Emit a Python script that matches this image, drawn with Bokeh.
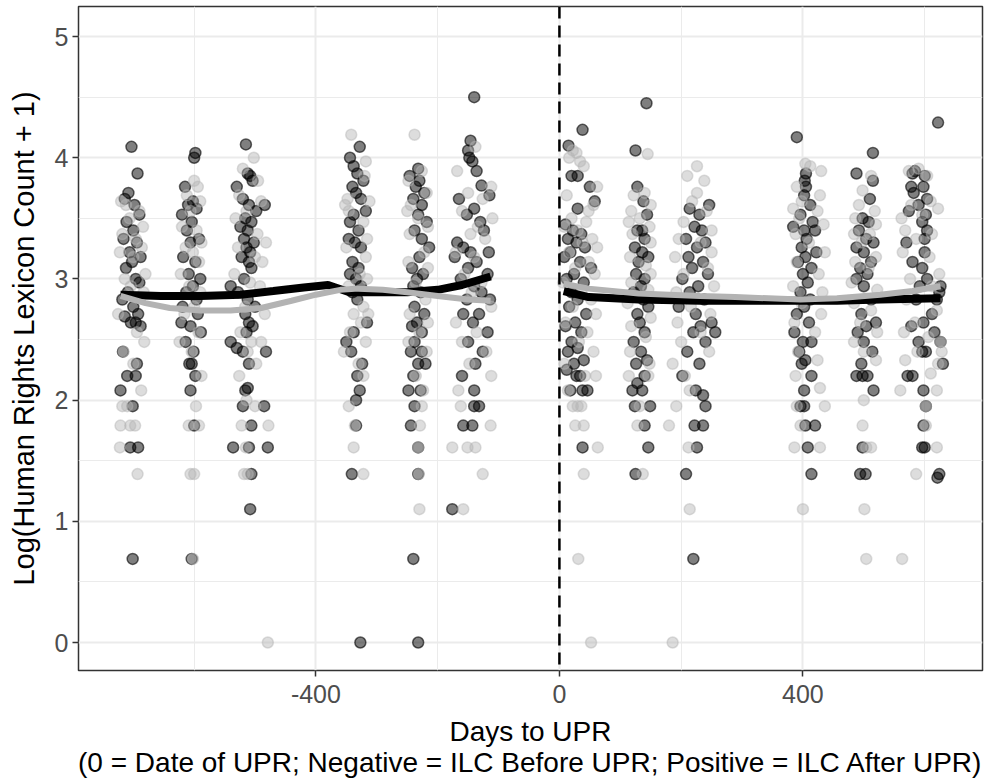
from bokeh.plotting import figure
from bokeh.models import Range1d, FixedTicker, Span
from bokeh.embed import file_html
from bokeh.resources import INLINE

# ---------------- data (days to UPR, log(count + 1)) ----------------
dark_pre = [
    # ~ -700
    (-703,4.09),(-693,3.87),(-708,3.71),(-714,3.66),(-698,3.61),(-690,3.53),(-711,3.47),(-700,3.40),
    (-716,3.33),(-694,3.30),(-706,3.22),(-688,3.18),(-702,3.14),(-712,3.09),(-696,3.00),(-690,2.97),
    (-709,2.89),(-718,2.83),(-700,2.77),(-692,2.71),(-714,2.69),(-704,2.64),(-696,2.64),(-688,2.61),
    (-717,2.40),(-694,2.30),(-710,2.20),(-696,2.20),(-721,2.08),(-701,1.95),(-705,1.61),(-692,1.61),
    (-701,0.69),
    # ~ -600
    (-598,4.04),(-600,4.00),(-615,3.76),(-602,3.64),(-610,3.61),(-596,3.58),(-620,3.53),(-604,3.47),
    (-612,3.40),(-592,3.33),(-606,3.30),(-618,3.18),(-598,3.14),(-609,3.04),(-590,3.00),(-602,2.94),
    (-613,2.89),(-596,2.83),(-619,2.77),(-594,2.71),(-621,2.64),(-606,2.61),(-589,2.56),(-614,2.48),
    (-601,2.40),(-608,2.30),(-604,2.30),(-598,2.20),(-606,2.08),(-600,1.79),(-604,0.69),
    # ~ -515
    (-515,4.11),(-512,3.87),(-508,3.85),(-530,3.76),(-504,3.81),(-520,3.66),(-510,3.61),(-498,3.56),
    (-516,3.50),(-524,3.43),(-506,3.47),(-512,3.40),(-518,3.33),(-502,3.30),(-484,3.61),(-514,3.26),
    (-508,3.22),(-522,3.18),(-510,3.14),(-506,3.09),(-518,3.00),(-540,2.94),(-528,2.89),(-512,2.83),
    (-500,2.77),(-516,2.71),(-510,2.64),(-504,2.61),(-514,2.56),(-540,2.48),(-520,2.40),(-530,2.43),
    (-482,2.40),(-510,2.30),(-516,2.08),(-512,2.10),(-520,1.95),(-485,1.95),(-506,1.79),(-536,1.61),
    (-510,1.61),(-479,1.61),(-506,1.39),(-508,1.10),
    # ~ -335
    (-328,4.09),(-344,4.00),(-338,3.93),(-332,3.87),(-322,3.81),(-340,3.76),(-334,3.71),(-326,3.66),
    (-318,3.56),(-338,3.53),(-344,3.47),(-330,3.40),(-346,3.33),(-336,3.30),(-326,3.26),(-340,3.14),
    (-330,3.09),(-344,3.04),(-334,3.00),(-326,2.94),(-340,2.89),(-332,2.83),(-316,2.64),(-338,2.56),
    (-350,2.48),(-342,2.40),(-324,2.30),(-332,2.20),(-328,2.08),(-334,2.00),(-334,1.79),(-341,1.39),
    (-327,0.00),
    # ~ -235
    (-232,3.91),(-246,3.85),(-230,3.81),(-236,3.76),(-222,3.71),(-240,3.66),(-226,3.61),(-232,3.53),
    (-218,3.47),(-238,3.40),(-226,3.33),(-214,3.26),(-230,3.18),(-242,3.09),(-224,3.04),(-234,3.00),
    (-240,2.94),(-228,2.89),(-238,2.77),(-222,2.71),(-234,2.64),(-242,2.61),(-226,2.56),(-238,2.48),
    (-244,2.40),(-226,2.40),(-232,2.30),(-220,2.30),(-240,2.20),(-228,2.08),(-248,2.08),(-238,1.95),
    (-244,1.79),(-232,1.61),(-232,1.39),(-240,0.69),(-232,0.00),
    # ~ -145
    (-140,4.50),(-146,4.14),(-150,4.06),(-148,4.00),(-143,3.97),(-136,3.89),(-128,3.77),(-165,3.66),
    (-115,3.69),(-140,3.58),(-152,3.53),(-130,3.47),(-124,3.40),(-168,3.30),(-158,3.26),(-146,3.22),
    (-116,3.22),(-172,3.18),(-136,3.14),(-150,3.09),(-118,3.04),(-162,3.00),(-140,2.94),(-128,2.89),
    (-152,2.83),(-114,2.83),(-158,2.71),(-132,2.71),(-142,2.64),(-118,2.56),(-150,2.48),(-126,2.40),
    (-138,2.30),(-160,2.20),(-140,2.08),(-140,1.95),(-132,1.95),(-158,1.79),(-143,1.79),(-176,1.10),
]

light_pre = [
    # ~ -700
    (-720,3.64),(-712,3.61),(-690,3.56),(-706,3.50),(-684,3.43),(-718,3.37),(-696,3.33),(-686,3.26),
    (-722,3.22),(-700,3.18),(-680,3.04),(-714,3.00),(-704,2.94),(-683,2.89),(-725,2.71),(-694,2.56),
    (-682,2.48),(-716,2.40),(-700,2.30),(-687,2.08),(-718,1.95),(-710,1.95),(-721,1.79),(-705,1.79),
    (-697,1.79),(-722,1.61),(-693,1.39),
    # ~ -600
    (-600,3.81),(-594,3.76),(-612,3.69),(-590,3.64),(-606,3.56),(-620,3.43),(-596,3.40),(-588,3.30),
    (-614,3.26),(-602,3.22),(-592,3.14),(-622,3.04),(-608,2.94),(-590,2.89),(-600,2.77),(-616,2.71),
    (-593,2.56),(-624,2.48),(-604,2.40),(-588,2.20),(-597,1.95),(-609,1.79),(-592,1.79),(-606,1.39),
    (-600,1.39),(-602,0.69),
    # ~ -515
    (-502,4.00),(-520,3.91),(-495,3.81),(-526,3.69),(-490,3.64),(-514,3.56),(-532,3.50),(-496,3.37),
    (-482,3.30),(-528,3.26),(-500,3.18),(-488,3.14),(-534,3.04),(-508,2.97),(-492,2.94),(-516,2.77),
    (-484,2.71),(-524,2.56),(-506,2.48),(-512,2.40),(-490,2.48),(-498,2.30),(-526,2.20),(-514,2.00),
    (-500,1.95),(-522,1.79),(-478,1.79),(-515,1.61),(-518,1.39),(-512,1.39),(-479,0.00),
    # ~ -335
    (-342,4.19),(-318,3.97),(-320,3.85),(-348,3.66),(-352,3.61),(-312,3.64),(-346,3.56),(-322,3.47),
    (-316,3.33),(-350,3.26),(-318,3.18),(-328,3.04),(-316,3.00),(-346,2.94),(-322,2.77),(-338,2.71),
    (-314,2.71),(-326,2.64),(-344,2.56),(-318,2.48),(-354,2.40),(-330,2.30),(-322,2.20),(-346,1.95),
    (-336,1.79),(-338,1.61),(-322,1.39),
    # ~ -235
    (-238,4.19),(-226,3.89),(-248,3.81),(-218,3.71),(-244,3.61),(-250,3.56),(-232,3.50),(-216,3.43),
    (-246,3.37),(-222,3.22),(-248,3.14),(-216,3.09),(-236,2.97),(-220,2.83),(-246,2.71),(-216,2.64),
    (-230,2.56),(-248,2.48),(-218,2.40),(-236,2.20),(-224,2.08),(-226,1.95),(-229,1.79),(-232,1.61),
    (-231,1.39),(-230,1.10),
    # ~ -145
    (-138,4.09),(-168,3.89),(-112,3.76),(-150,3.71),(-126,3.66),(-160,3.56),(-110,3.50),(-134,3.43),
    (-146,3.37),(-122,3.33),(-170,3.22),(-140,3.18),(-156,3.04),(-128,2.97),(-144,2.89),(-112,2.77),
    (-170,2.64),(-136,2.56),(-160,2.48),(-120,2.40),(-148,2.30),(-112,2.20),(-166,2.08),(-162,1.95),
    (-113,1.79),(-176,1.61),(-151,1.61),(-138,1.61),(-126,1.39),(-158,1.10),
]

dark_post = [
    # ~ 35
    (15,4.10),(38,4.23),(20,3.85),(30,3.85),(50,3.76),(58,3.64),(30,3.58),(10,3.45),(22,3.40),
    (36,3.37),(14,3.33),(28,3.30),(42,3.26),(18,3.22),(8,3.18),(34,3.14),(52,3.09),(24,3.04),
    (12,3.00),(40,2.97),(20,2.89),(30,2.83),(16,2.77),(44,2.71),(26,2.64),(10,2.61),(36,2.56),
    (20,2.48),(30,2.43),(14,2.40),(40,2.33),(24,2.30),(12,2.25),(34,2.20),(28,2.20),(18,2.08),
    (38,2.08),(46,2.08),(38,1.61),
    # ~ 133
    (143,4.45),(125,4.06),(128,3.76),(138,3.64),(144,3.53),(136,3.40),(128,3.40),(140,3.33),
    (124,3.26),(136,3.22),(146,3.18),(130,3.14),(126,3.04),(140,3.00),(134,2.94),(122,2.89),
    (138,2.83),(146,2.77),(128,2.71),(132,2.64),(140,2.56),(122,2.48),(134,2.40),(144,2.33),
    (126,2.30),(140,2.20),(128,2.14),(136,2.08),(120,2.08),(124,1.95),(149,1.95),(140,1.79),
    (146,1.61),(125,1.39),
    # ~ 225
    (246,3.61),(214,3.58),(230,3.53),(222,3.43),(234,3.40),(208,3.33),(240,3.30),(226,3.26),
    (212,3.18),(236,3.14),(218,3.09),(244,3.04),(202,3.00),(228,2.94),(214,2.89),(238,2.83),
    (196,2.77),(224,2.71),(250,2.64),(232,2.61),(256,2.56),(220,2.56),(240,2.48),(210,2.40),
    (230,2.30),(202,2.20),(224,2.08),(236,2.04),(240,1.95),(222,1.79),(236,1.79),(226,1.61),
    (208,1.39),(220,0.69),
    # ~ 405
    (390,4.17),(405,3.87),(403,3.81),(405,3.76),(402,3.69),(412,3.61),(396,3.53),(416,3.47),
    (384,3.43),(402,3.40),(420,3.40),(406,3.33),(398,3.26),(422,3.22),(404,3.18),(392,3.14),
    (414,3.09),(400,3.04),(408,2.97),(396,2.89),(412,2.83),(402,2.77),(390,2.71),(410,2.64),
    (386,2.56),(400,2.48),(414,2.48),(394,2.40),(404,2.33),(398,2.30),(414,2.20),(402,2.08),
    (396,1.95),(402,1.95),(404,1.79),(420,1.79),(408,1.61),(414,1.39),
    # ~ 500
    (515,4.04),(488,3.87),(515,3.81),(510,3.66),(498,3.50),(508,3.47),(492,3.40),(504,3.33),
    (516,3.30),(488,3.26),(500,3.22),(512,3.14),(494,3.09),(506,3.04),(488,3.00),(500,2.94),
    (512,2.83),(496,2.71),(520,2.64),(504,2.61),(490,2.56),(500,2.48),(514,2.40),(496,2.30),
    (506,2.20),(488,2.20),(498,2.20),(516,2.08),(494,1.39),(503,1.39),(498,1.61),
    # ~ 590
    (622,4.29),(584,3.89),(580,3.87),(600,3.85),(582,3.71),(578,3.76),(598,3.76),(604,3.66),
    (590,3.61),(574,3.56),(602,3.53),(596,3.47),(604,3.40),(600,3.33),(570,3.30),(600,3.22),
    (580,3.14),(596,3.09),(604,3.00),(592,2.94),(626,2.94),(624,2.89),(620,2.83),(586,2.83),
    (612,2.71),(598,2.64),(578,2.61),(616,2.56),(590,2.48),(602,2.40),(596,2.40),(626,2.48),
    (630,2.30),(580,2.20),(572,2.20),(598,2.08),(602,1.95),(598,1.79),(600,1.61),(596,1.61),
    (624,1.39),(621,1.36),
]

light_post = [
    # ~ 35
    (22,4.06),(28,4.04),(16,4.00),(34,3.97),(40,3.93),(62,3.76),(12,3.69),(56,3.61),(48,3.56),
    (20,3.50),(44,3.47),(8,3.43),(30,3.40),(54,3.33),(38,3.30),(62,3.26),(16,3.22),(48,3.14),
    (26,3.09),(58,3.04),(6,2.97),(36,2.89),(52,2.83),(22,2.77),(60,2.71),(10,2.64),(46,2.56),
    (32,2.48),(56,2.40),(8,2.30),(42,2.20),(60,2.20),(14,2.08),(22,1.95),(30,1.95),(36,1.95),
    (26,1.79),(40,1.79),(63,1.61),(40,1.39),(31,0.69),(52,0.00),
    # ~ 133
    (145,4.03),(122,3.69),(140,3.71),(118,3.56),(150,3.61),(132,3.50),(114,3.47),(148,3.43),
    (120,3.37),(150,3.30),(116,3.18),(142,3.11),(150,3.04),(118,2.97),(146,2.91),(112,2.80),
    (150,2.68),(118,2.61),(142,2.52),(116,2.40),(148,2.30),(114,2.20),(146,2.20),(132,1.95),
    (128,1.79),(137,1.39),
    # ~ 225
    (226,3.93),(210,3.85),(238,3.81),(226,3.71),(218,3.64),(242,3.56),(204,3.47),(250,3.40),
    (196,3.33),(232,3.30),(250,3.22),(190,3.18),(244,3.09),(204,3.04),(254,2.94),(192,2.89),
    (216,2.77),(248,2.71),(194,2.64),(232,2.56),(200,2.48),(246,2.40),(186,2.30),(206,2.20),
    (214,2.08),(192,1.95),(180,1.79),(212,1.61),(214,1.10),(186,0.00),
    # ~ 405
    (404,3.95),(412,3.93),(430,3.89),(390,3.76),(428,3.69),(398,3.64),(384,3.58),(424,3.56),
    (394,3.50),(434,3.45),(388,3.37),(410,3.30),(436,3.22),(390,3.14),(426,3.04),(384,2.94),
    (432,2.89),(398,2.80),(430,2.71),(386,2.64),(420,2.56),(392,2.40),(424,2.33),(388,2.20),
    (428,2.10),(390,1.95),(436,1.95),(396,1.79),(386,1.61),(428,1.61),(400,1.10),
    # ~ 500
    (512,3.85),(498,3.73),(492,3.61),(518,3.56),(486,3.50),(520,3.45),(484,3.37),(510,3.37),
    (496,3.30),(520,3.18),(486,3.14),(508,3.09),(480,2.97),(522,2.91),(484,2.80),(512,2.74),
    (494,2.64),(522,2.56),(484,2.48),(500,2.40),(520,2.33),(500,2.00),(498,1.79),(504,1.61),
    (512,1.61),(501,1.10),(504,0.69),
    # ~ 590
    (574,3.89),(590,3.91),(604,3.85),(622,3.58),(578,3.61),(610,3.64),(562,3.50),(596,3.53),
    (568,3.40),(612,3.37),(586,3.33),(564,3.22),(608,3.18),(624,3.04),(576,3.00),(612,2.94),
    (570,2.83),(620,2.74),(584,2.64),(566,2.56),(606,2.52),(626,2.48),(588,2.40),(568,2.33),
    (622,2.30),(610,2.22),(628,2.40),(560,2.08),(620,2.08),(620,1.61),(602,1.79),(602,1.95),
    (586,1.39),(563,0.69),
]

# smoothed (loess) trends
dark_smooth_pre_x = [-721, -655, -590, -524, -470, -420, -380, -345, -300, -250, -200, -160, -113]
dark_smooth_pre_y = [2.87, 2.86, 2.86, 2.87, 2.90, 2.93, 2.95, 2.89, 2.89, 2.89, 2.91, 2.95, 3.02]
light_smooth_pre_x = [-721, -680, -640, -590, -540, -490, -440, -400, -360, -330, -290, -250, -200, -150, -113]
light_smooth_pre_y = [2.86, 2.80, 2.76, 2.74, 2.74, 2.76, 2.82, 2.87, 2.91, 2.92, 2.91, 2.89, 2.86, 2.83, 2.82]
dark_smooth_post_x = [7, 48, 130, 231, 289, 396, 456, 527, 626]
dark_smooth_post_y = [2.90, 2.85, 2.83, 2.82, 2.82, 2.82, 2.82, 2.83, 2.84]
light_smooth_post_x = [7, 48, 130, 231, 289, 396, 456, 527, 580, 626]
light_smooth_post_y = [2.96, 2.92, 2.88, 2.86, 2.85, 2.83, 2.84, 2.87, 2.90, 2.94]

x_ticks = [-400, 0, 400]
x_tick_labels = {-400: "-400", 0: "0", 400: "400"}
x_minor = [-800, -600, -200, 200, 600]
y_ticks = [0, 1, 2, 3, 4, 5]
y_minor = [0.5, 1.5, 2.5, 3.5, 4.5]

FONT = "Liberation Sans"

p = figure(width=984, height=780, output_backend="svg", toolbar_location=None,
           x_range=Range1d(-790, 695), y_range=Range1d(-0.231, 5.248),
           min_border_left=78, min_border_right=2, min_border_top=6, min_border_bottom=110)
p.background_fill_color = "white"
p.border_fill_color = "white"
p.outline_line_color = "#333333"
p.outline_line_width = 1.5

p.xaxis.ticker = FixedTicker(ticks=x_ticks, minor_ticks=x_minor)
p.yaxis.ticker = FixedTicker(ticks=y_ticks, minor_ticks=y_minor)
p.xaxis.major_label_overrides = x_tick_labels
p.xgrid.ticker = p.xaxis.ticker
p.ygrid.ticker = p.yaxis.ticker
for g in (p.xgrid, p.ygrid):
    g.grid_line_color = "#ebebeb"
    g.grid_line_width = 2
    g.minor_grid_line_color = "#ebebeb"
    g.minor_grid_line_width = 1

for ax in (p.xaxis, p.yaxis):
    ax.axis_line_color = None
    ax.major_tick_line_color = "#333333"
    ax.major_tick_line_width = 1.5
    ax.major_tick_out = 6
    ax.major_tick_in = 0
    ax.minor_tick_line_color = None
    ax.major_label_text_font = FONT
    ax.major_label_text_font_size = "25px"
    ax.major_label_text_color = "#4d4d4d"
    ax.axis_label_text_font = FONT
    ax.axis_label_text_font_style = "normal"
    ax.axis_label_text_color = "black"

p.xaxis.axis_label = ("Days to UPR\n"
                      "(0 = Date of UPR; Negative = ILC Before UPR; Positive = ILC After UPR)")
p.xaxis.axis_label_text_font_size = "28px"
p.xaxis.axis_label_text_line_height = 1.0
p.xaxis.major_label_standoff = 8
p.xaxis.axis_label_standoff = 10
p.yaxis.axis_label = "Log(Human Rights Lexicon Count + 1)"
p.yaxis.axis_label_text_font_size = "29px"
p.yaxis.major_label_standoff = 4
p.yaxis.axis_label_standoff = 12

p.add_layout(Span(location=0, dimension="height", line_color="black",
                  line_width=2.5, line_dash="12 7"))

def unzip(pts):
    return [a for a, b in pts], [b for a, b in pts]

dx, dy = unzip(dark_pre + dark_post)
lx, ly = unzip(light_pre + light_post)

p.scatter(dx, dy, size=11, fill_color="black", fill_alpha=0.5,
          line_color="black", line_alpha=0.6, line_width=1.5)
p.scatter(lx, ly, size=11, fill_color="#b3b3b3", fill_alpha=0.45,
          line_color="#b3b3b3", line_alpha=0.45, line_width=1.5)

p.line(dark_smooth_pre_x, dark_smooth_pre_y, line_color="black", line_width=8)
p.line(dark_smooth_post_x, dark_smooth_post_y, line_color="black", line_width=8)
p.line(light_smooth_pre_x, light_smooth_pre_y, line_color="#b3b3b3", line_width=6)
p.line(light_smooth_post_x, light_smooth_post_y, line_color="#b3b3b3", line_width=6)

open("out.html", "w").write(file_html(p, INLINE))
